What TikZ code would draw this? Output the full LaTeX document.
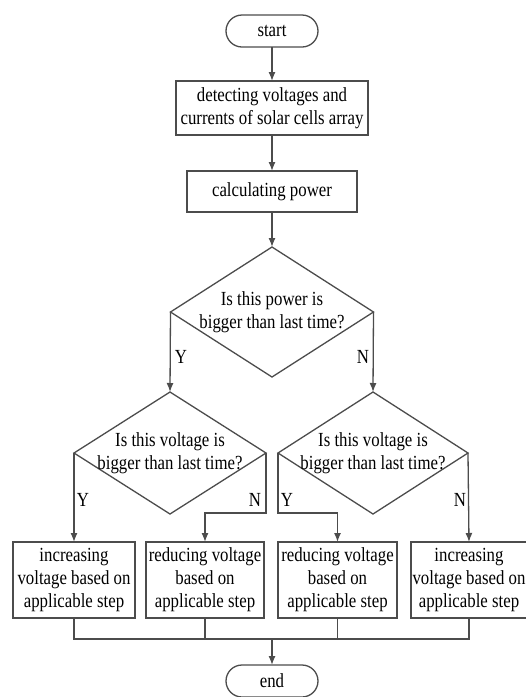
\documentclass[tikz,border=0pt]{standalone}
\usepackage{fontspec}
\setmainfont[FakeStretch=0.84]{Liberation Serif}
\usetikzlibrary{shapes.geometric,arrows.meta,calc}
\begin{document}
\begin{tikzpicture}[x=1pt,y=-1pt,
  font=\fontsize{20}{23}\selectfont,
  ln/.style={draw=black!70,line width=1.3pt},
  arr/.style={ln,-{Latex[length=9pt,width=7pt]}},
  term/.style={ln,rounded corners=16pt,minimum width=92pt,minimum height=32pt,inner sep=0pt,outer sep=0pt},
  proc/.style={ln,rectangle,align=center,inner sep=0pt,outer sep=0pt},
  dec/.style={ln,diamond,inner sep=0pt,outer sep=0pt},
  dtext/.style={label={[align=center,inner sep=0pt]center:#1}},
  lab/.style={inner sep=0pt}]
\useasboundingbox (0,0) rectangle (526,697);
\node[term] (start) at (272,31) {start};
\node[proc,minimum width=192pt,minimum height=54pt] (b1) at (272,108) {detecting voltages and\\currents of solar cells array};
\node[proc,minimum width=170pt,minimum height=41pt] (b2) at (272,191.5) {calculating power};
\node[dec,minimum width=203pt,minimum height=130pt,dtext={Is this power is\\bigger than last time?}] (d1) at (272,312) {};
\node[dec,minimum width=192pt,minimum height=122pt,dtext={Is this voltage is\\bigger than last time?}] (d2) at (170,453) {};
\node[dec,minimum width=190pt,minimum height=122pt,dtext={Is this voltage is\\bigger than last time?}] (d3) at (373,453) {};
\node[proc,minimum width=122pt,minimum height=76pt] (bA) at (74,580) {increasing\\voltage based on\\applicable step};
\node[proc,minimum width=118pt,minimum height=76pt] (bB) at (205,580) {reducing voltage\\based on\\applicable step};
\node[proc,minimum width=119pt,minimum height=76pt] (bC) at (337.5,580) {reducing voltage\\based on\\applicable step};
\node[proc,minimum width=116pt,minimum height=76pt] (bD) at (469,580) {increasing\\voltage based on\\applicable step};
\node[term] (end) at (272,681) {end};
\draw[arr] (start) -- (b1);
\draw[arr] (b1) -- (b2);
\draw[arr] (b2) -- (d1);
\draw[arr] (d1.west) -- (d2.north);
\draw[arr] (d1.east) -- (d3.north);
\draw[arr] (d2.west) -- (bA.north);
\draw[arr] (d2.east) -- ++(0,60) -| (bB.north);
\draw[arr] (d3.west) -- ++(0,60) -| (bC.north);
\draw[arr] (d3.east) -- (bD.north);
\coordinate (bus) at ($(bA.south)+(0,21)$);
\draw[ln] (bA.south) -- (bus) -| (bD.south);
\draw[ln] (bB.south) -- (bB.south |- bus);
\draw[ln] (bC.south) -- (bC.south |- bus);
\draw[arr] (end.north |- bus) -- (end.north);
\node[lab] (y1) at (181,357) {Y};
\node[lab] (n1) at (363,357) {N};
\node[lab] (y2) at (83,500) {Y};
\node[lab] (n2) at (255,500) {N};
\node[lab] (y3) at (287,500) {Y};
\node[lab] (n3) at (460,500) {N};
\end{tikzpicture}
\end{document}
